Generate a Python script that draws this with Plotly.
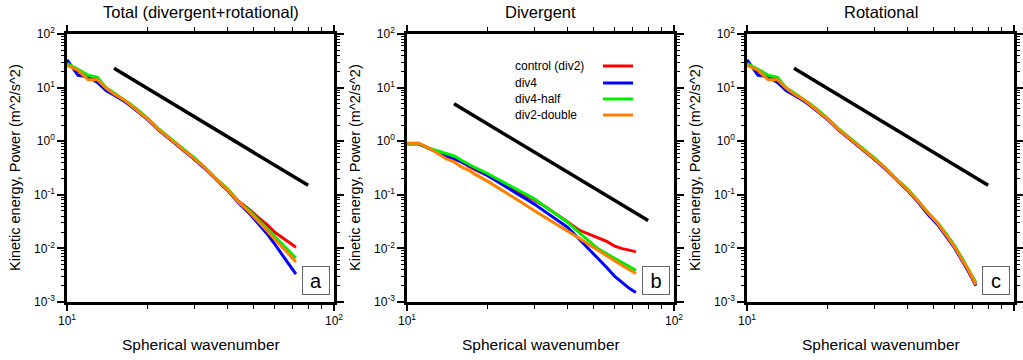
import plotly.graph_objects as go

# ---------------- data ----------------
K = [10, 11, 12, 13, 14, 15, 16, 17, 18, 20, 22, 24, 26, 28, 30, 33, 36, 40, 44, 48, 52, 56, 60, 64, 68, 72]

series_names = ["control (div2)", "div4", "div4-half", "div2-double"]
series_colors = ["#ff0000", "#0000ff", "#00ee00", "#ff8000"]

# Panel a: Total (divergent+rotational)
tot_control = [28, 20, 15, 14, 9.5, 7.6, 6.2, 5.0, 4.0, 2.6, 1.65, 1.15, 0.85, 0.63, 0.47, 0.31, 0.2, 0.125, 0.075, 0.054, 0.038, 0.028, 0.02, 0.016, 0.0128, 0.0105]
tot_div4 = [33, 17, 16, 12.5, 8.8, 7.3, 6.0, 4.9, 3.9, 2.55, 1.62, 1.13, 0.84, 0.62, 0.46, 0.3, 0.195, 0.12, 0.07, 0.046, 0.029, 0.019, 0.012, 0.0077, 0.005, 0.0033]
tot_div4half = [28, 22, 17, 15.5, 10, 7.8, 6.4, 5.2, 4.2, 2.7, 1.72, 1.2, 0.88, 0.66, 0.49, 0.32, 0.205, 0.128, 0.074, 0.051, 0.034, 0.023, 0.016, 0.012, 0.0088, 0.0066]
tot_div2double = [26, 21, 14, 14, 9.8, 7.6, 6.3, 5.1, 4.0, 2.6, 1.66, 1.16, 0.86, 0.64, 0.47, 0.31, 0.2, 0.124, 0.072, 0.049, 0.032, 0.021, 0.0145, 0.0105, 0.0077, 0.0056]

# Panel b: Divergent
div_control = [0.9, 0.9, 0.74, 0.62, 0.52, 0.47, 0.41, 0.34, 0.29, 0.23, 0.18, 0.145, 0.118, 0.096, 0.08, 0.06, 0.045, 0.031, 0.022, 0.0185, 0.016, 0.0135, 0.011, 0.0099, 0.0093, 0.0086]
div_div4 = [0.9, 0.9, 0.75, 0.63, 0.53, 0.48, 0.41, 0.36, 0.31, 0.23, 0.17, 0.131, 0.103, 0.083, 0.067, 0.048, 0.035, 0.0246, 0.0151, 0.0098, 0.0066, 0.0044, 0.003, 0.0023, 0.0018, 0.0015]
div_div4half = [0.9, 0.91, 0.75, 0.66, 0.58, 0.53, 0.44, 0.37, 0.32, 0.25, 0.195, 0.155, 0.124, 0.101, 0.084, 0.0595, 0.044, 0.0305, 0.020, 0.014, 0.0098, 0.0079, 0.0065, 0.0054, 0.0046, 0.0039]
div_div2double = [0.92, 0.93, 0.76, 0.6, 0.47, 0.41, 0.33, 0.29, 0.24, 0.18, 0.135, 0.104, 0.08, 0.063, 0.0505, 0.038, 0.029, 0.0214, 0.0157, 0.0118, 0.0091, 0.0072, 0.0059, 0.0048, 0.004, 0.0034]

# Panel c: Rotational
rot_control = [28, 20, 15, 14, 9.5, 7.6, 6.2, 5.0, 4.0, 2.6, 1.65, 1.15, 0.85, 0.63, 0.47, 0.31, 0.2, 0.123, 0.072, 0.042, 0.028, 0.017, 0.0105, 0.006, 0.0036, 0.0021]
rot_div4 = [33, 17, 16, 12.5, 8.8, 7.3, 6.0, 4.9, 3.9, 2.55, 1.62, 1.13, 0.84, 0.62, 0.46, 0.3, 0.195, 0.12, 0.07, 0.041, 0.027, 0.0165, 0.0101, 0.0058, 0.0035, 0.002]
rot_div4half = [28, 22, 17, 15.5, 10, 7.8, 6.4, 5.2, 4.2, 2.7, 1.72, 1.2, 0.88, 0.66, 0.49, 0.32, 0.205, 0.127, 0.075, 0.044, 0.0295, 0.018, 0.0112, 0.0065, 0.0039, 0.0023]
rot_div2double = [26, 21, 14, 14, 9.8, 7.6, 6.3, 5.1, 4.0, 2.6, 1.66, 1.16, 0.86, 0.64, 0.47, 0.31, 0.2, 0.124, 0.073, 0.043, 0.0285, 0.0172, 0.0106, 0.0061, 0.0037, 0.0021]

# Reference k^-3 lines
REF_K = [15, 80]
ref_tot = [23, 0.15]
ref_div = [5, 0.033]
ref_rot = [23, 0.15]

panel_titles = ["Total (divergent+rotational)", "Divergent", "Rotational"]
panel_letters = ["a", "b", "c"]
x_ticks = [10, 100]
x_ticklabels = ["10<sup>1</sup>", "10<sup>2</sup>"]
y_ticks = [1e-3, 1e-2, 1e-1, 1e0, 1e1, 1e2]
y_ticklabels = ["10<sup>-3</sup>", "10<sup>-2</sup>", "10<sup>-1</sup>", "10<sup>0</sup>", "10<sup>1</sup>", "10<sup>2</sup>"]
x_title = "Spherical wavenumber"
y_title = "Kinetic energy, Power (m^2/s^2)"

panels = [
    ([tot_control, tot_div4, tot_div4half, tot_div2double], ref_tot),
    ([div_control, div_div4, div_div4half, div_div2double], ref_div),
    ([rot_control, rot_div4, rot_div4half, rot_div2double], ref_rot),
]

# ---------------- layout geometry (pixels) ----------------
W, H = 1023, 360
plot_left = [67, 407, 747]
plot_w = 267
plot_top, plot_bot = 34, 302
FONT = "Liberation Sans, Arial, Helvetica, sans-serif"

def px(x):
    return x / W

def py(y):
    return 1 - y / H

fig = go.Figure()

x_minor = [m * 10 for m in range(2, 10)]
y_minor = [m * 10 ** e for e in range(-3, 2) for m in range(2, 10)]

for i, (vals, ref) in enumerate(panels):
    sfx = "" if i == 0 else str(i + 1)
    xa, ya = "x" + sfx, "y" + sfx
    fig.add_trace(go.Scatter(x=REF_K, y=ref, mode="lines", xaxis=xa, yaxis=ya,
                             line=dict(color="black", width=3.5), showlegend=False, hoverinfo="skip"))
    for name, color, v in zip(series_names, series_colors, vals):
        fig.add_trace(go.Scatter(x=K, y=v, mode="lines", name=name, xaxis=xa, yaxis=ya,
                                 line=dict(color=color, width=3), showlegend=False))

    axis_common = dict(showline=True, linecolor="black", linewidth=2.5, mirror="ticks",
                       ticks="outside", tickwidth=1.5, tickcolor="black",
                       showgrid=False, zeroline=False, automargin=False,
                       tickfont=dict(family=FONT, size=12, color="black"))
    fig.layout["xaxis" + sfx] = dict(
        type="log", range=[1, 2], anchor=ya, ticklen=6,
        domain=[px(plot_left[i]), px(plot_left[i] + plot_w)],
        tickmode="array", tickvals=x_ticks, ticktext=x_ticklabels,
        minor=dict(tickvals=x_minor, ticks="outside", ticklen=4, tickwidth=1, tickcolor="black"),
        **axis_common)
    fig.layout["yaxis" + sfx] = dict(
        type="log", range=[-3, 2], anchor=xa, ticklen=7,
        domain=[py(plot_bot), py(plot_top)],
        tickmode="array", tickvals=y_ticks, ticktext=y_ticklabels,
        minor=dict(tickvals=y_minor, ticks="outside", ticklen=3.5, tickwidth=1, tickcolor="black"),
        **axis_common)

    cx = plot_left[i] + plot_w / 2
    # panel title
    fig.add_annotation(text=panel_titles[i], x=px(cx), y=py(12), xref="paper", yref="paper",
                       showarrow=False, font=dict(family=FONT, size=16.5, color="black"),
                       xanchor="center", yanchor="middle")
    # x title
    fig.add_annotation(text=x_title, x=px(cx), y=py(344), xref="paper", yref="paper",
                       showarrow=False, font=dict(family=FONT, size=15.5, color="black"),
                       xanchor="center", yanchor="middle")
    # y title
    fig.add_annotation(text=y_title, x=px(plot_left[i] - 52), y=py((plot_top + plot_bot) / 2),
                       xref="paper", yref="paper", textangle=-90,
                       showarrow=False, font=dict(family=FONT, size=14.5, color="black"),
                       xanchor="center", yanchor="middle")
    # panel letter box
    fig.add_annotation(text=panel_letters[i], x=px(plot_left[i] + 248.5), y=py(280.5),
                       xref="paper", yref="paper", showarrow=False,
                       font=dict(family=FONT, size=20, color="black"),
                       width=24, height=25, bordercolor="#666666", borderwidth=1,
                       bgcolor="white", xanchor="center", yanchor="middle")

# legend (inside panel b): text on the left, line sample on the right
leg_rows = [66, 83, 99, 115]
for name, color, yy in zip(series_names, series_colors, leg_rows):
    fig.add_annotation(text=name, x=px(513), y=py(yy), xref="paper", yref="paper",
                       showarrow=False, xanchor="left", yanchor="middle",
                       font=dict(family=FONT, size=12, color="black"))
    fig.add_shape(type="line", xref="paper", yref="paper",
                  x0=px(603), x1=px(633), y0=py(yy), y1=py(yy),
                  line=dict(color=color, width=3))

fig.update_layout(width=W, height=H, margin=dict(l=0, r=0, t=0, b=0),
                  paper_bgcolor="white", plot_bgcolor="white", showlegend=False)

fig.write_html("out.html", config={"displayModeBar": False},
               post_script="document.body.style.margin='0px';document.body.style.overflow='hidden';")
